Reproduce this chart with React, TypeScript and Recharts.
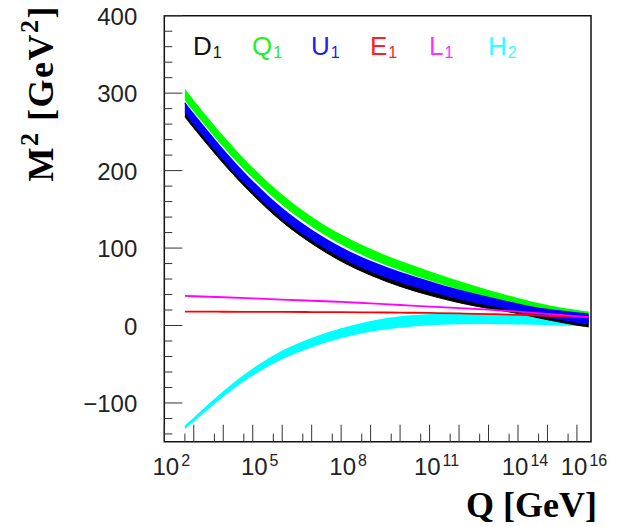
import { Area, ComposedChart, Line, ReferenceArea, XAxis, YAxis } from 'recharts';

// renormalisation scale Q [GeV]
const qGeV = [5e2, 1e3, 1e4, 1e5, 1e6, 1e7, 1e8, 1e9, 1e10, 1e11, 1e12, 1e13, 1e14, 1e15, 1e16, 2.5e16];

// soft masses squared, bands as [low, high]
const d1Lo = [269.5, 255, 209.5, 169, 134, 106, 83, 65, 50.5, 39, 29.5, 22, 15.5, 7.5, 0.5, -1.8];
const d1Hi = [287, 272, 226, 185, 150, 122, 99.5, 81.5, 67.5, 55.5, 44.5, 35, 26.5, 19.5, 15, 13.7];
const q1Lo = [291, 276, 230.5, 190, 155.5, 127.5, 104.5, 86, 71, 58, 46.5, 36, 26.5, 18.5, 13, 11.2];
const q1Hi = [306, 291, 245, 204, 169, 140.5, 117.5, 99, 83.5, 70, 57.5, 46, 35.5, 26.5, 20, 18.2];
const u1Lo = [274, 259, 213.5, 173, 138, 110, 87.5, 69.5, 55.5, 44, 34, 26, 18.5, 10.5, 3.5, 1.2];
const u1Hi = [289, 274, 228, 187, 152, 124, 101.5, 83.5, 69.5, 57.5, 46.5, 37, 28.5, 21.5, 17, 15.7];
const h2Lo = [-132.5, -123, -91, -63.5, -42.5, -27, -15.5, -7, -2, 1.25, 2.5, 2.8, 2.3, 1.5, 0.5, 0.5];
const h2Hi = [-130.5, -120, -86, -56.5, -33.5, -17, -4.5, 5, 11, 13.75, 14.5, 13.8, 12.3, 10.5, 8.5, 7.5];
const e1 = [18, 17.9, 17.8, 17.7, 17.6, 17.4, 17.2, 17, 16.6, 16.2, 15.6, 14.8, 13.8, 12.6, 11.2, 10.5];
const l1 = [38.2, 37.8, 36.5, 35, 33.5, 32, 30.5, 28.5, 26.5, 24.5, 22.5, 20.5, 18, 15, 12, 11];

// axes
const decadeExps = [2, 3, 4, 5, 6, 7, 8, 9, 10, 11, 12, 13, 14, 15, 16];
const xLabelExps = [2, 5, 8, 11, 14, 16];
const yTicks = [-140, -120, -100, -80, -60, -40, -20, 0, 20, 40, 60, 80, 100, 120, 140, 160, 180, 200, 220, 240, 260, 280, 300, 320, 340, 360, 380, 400];

const legendNames = ['D', 'Q', 'U', 'E', 'L', 'H'];
const legendSubs = ['1', '1', '1', '1', '1', '2'];
const legendColors = ['#111111', '#22ee22', '#2020ee', '#ff2020', '#ff30ff', '#30ffff'];

const xTicks: number[] = [];
decadeExps.forEach((n) => {
  xTicks.push(Number(`1e${n}`));
  if (n < 16) xTicks.push(Number(`5e${n}`));
});

const data = qGeV.map((q, i) => ({
  q,
  d1: [d1Lo[i], d1Hi[i]],
  q1: [q1Lo[i], q1Hi[i]],
  u1: [u1Lo[i], u1Hi[i]],
  h2: [h2Lo[i], h2Hi[i]],
  e1: e1[i],
  l1: l1[i],
}));

const sans = '"Liberation Sans", Arial, sans-serif';
const serif = '"Liberation Serif", "Times New Roman", serif';

function QTick({ x, y, payload }: any) {
  const exp = Math.log10(payload.value);
  const n = Math.round(exp);
  const decade = Math.abs(exp - n) < 1e-6;
  return (
    <g>
      <line x1={x} x2={x} y1={y} y2={y - (decade ? 17 : 8)} stroke="#333" strokeWidth={1} />
      {decade && xLabelExps.includes(n) && (
        <text x={x + 7} y={y + 33} textAnchor="middle" fontSize={24} fontFamily={sans} fill="#222">
          10
          <tspan dx={2} dy={-9} fontSize={16}>
            {n}
          </tspan>
        </text>
      )}
    </g>
  );
}

function MTick({ x, y, payload }: any) {
  const v = payload.value;
  const major = v % 100 === 0;
  return (
    <g>
      <line x1={x} x2={x + (major ? 18 : 8)} y1={y} y2={y} stroke="#333" strokeWidth={1} />
      {major && (
        <text x={x - 27} y={y + 9} textAnchor="end" fontSize={24} fontFamily={sans} fill="#222">
          {v < 0 ? `\u2212${-v}` : v}
        </text>
      )}
    </g>
  );
}

export default function App() {
  return (
    <div style={{ position: 'relative', width: 623, height: 527 }}>
      <style>{'body{margin:0}'}</style>
      <ComposedChart
        width={623}
        height={527}
        data={data}
        margin={{ top: 15.7, right: 32, bottom: 35.3, left: 104.3 }}
      >
        <XAxis
          dataKey="q"
          type="number"
          scale="log"
          domain={[1e2, 3e16]}
          ticks={xTicks}
          interval={0}
          height={50}
          axisLine={false}
          tickLine={false}
          tickSize={0}
          tickMargin={0}
          tick={<QTick />}
          allowDataOverflow
        />
        <YAxis
          type="number"
          domain={[-150, 400]}
          ticks={yTicks}
          interval={0}
          width={60}
          axisLine={false}
          tickLine={false}
          tickSize={0}
          tickMargin={0}
          tick={<MTick />}
          allowDataOverflow
        />
        <Area type="natural" dataKey="h2" name="H2" fill="#00ffff" fillOpacity={1} stroke="#00ffff" strokeWidth={1.5} isAnimationActive={false} />
        <Area type="natural" dataKey="d1" name="D1" fill="#000000" fillOpacity={1} stroke="#000000" strokeWidth={1} isAnimationActive={false} />
        <Area type="natural" dataKey="q1" name="Q1" fill="#00ff00" fillOpacity={1} stroke="none" isAnimationActive={false} />
        <Area type="natural" dataKey="u1" name="U1" fill="#0000ff" fillOpacity={1} stroke="none" isAnimationActive={false} />
        <Line type="natural" dataKey="e1" name="E1" stroke="#ff0000" strokeWidth={1.8} dot={false} isAnimationActive={false} />
        <Line type="natural" dataKey="l1" name="L1" stroke="#ff00ff" strokeWidth={1.8} dot={false} isAnimationActive={false} />
        <ReferenceArea x1={1e2} x2={3e16} y1={-150} y2={400} fill="none" stroke="#111" strokeWidth={1.5} ifOverflow="visible" />
      </ComposedChart>
      <svg width={623} height={527} style={{ position: 'absolute', left: 0, top: 0, pointerEvents: 'none' }}>
        {legendNames.map((name, i) => (
          <text key={name} x={193 + i * 59} y={55} fontSize={26} fontFamily={sans} fill={legendColors[i]}>
            {name}
            <tspan dx={1} dy={3} fontSize={16}>
              {legendSubs[i]}
            </tspan>
          </text>
        ))}
        <text
          transform="translate(53,5) rotate(-90)"
          textAnchor="end"
          fontSize={36}
          fontWeight="bold"
          fontFamily={serif}
          letterSpacing={1.5}
          fill="#000"
        >
          M<tspan fontSize={26} dy={-15}>2</tspan>
          <tspan dy={15}> [GeV</tspan>
          <tspan fontSize={26} dy={-15}>2</tspan>
          <tspan dy={15}>]</tspan>
        </text>
        <text x={597} y={517} textAnchor="end" fontSize={36} fontWeight="bold" fontFamily={serif} fill="#000">
          Q [GeV]
        </text>
      </svg>
    </div>
  );
}
